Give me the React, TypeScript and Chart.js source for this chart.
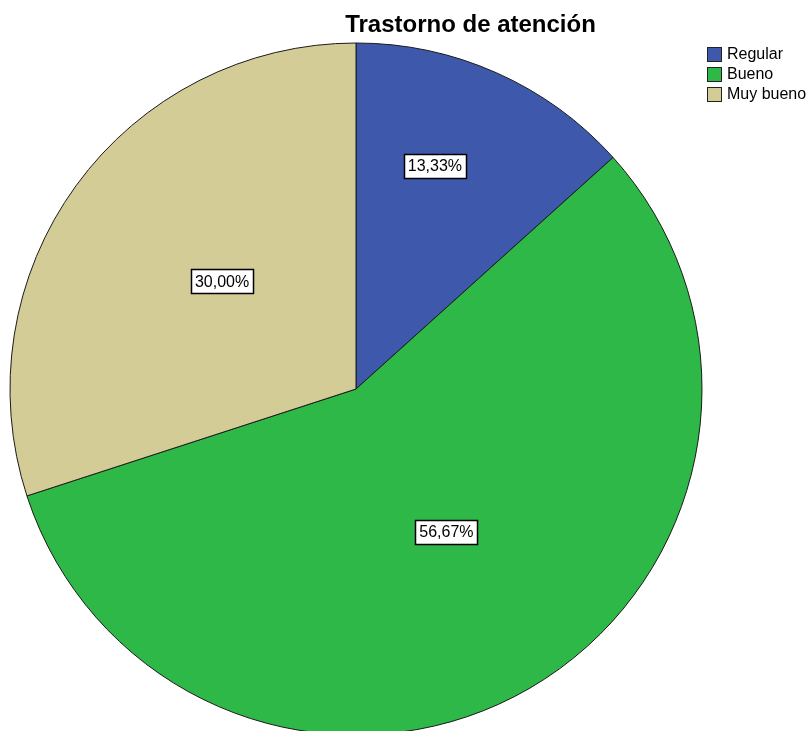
import React, { useEffect, useRef } from "react";
import { Chart, registerables } from "chart.js";

Chart.register(...registerables);

const chartTitle = "Trastorno de atención";
const categories = ["Regular", "Bueno", "Muy bueno"];
const percentages = [13.33, 56.67, 30.0];
const sliceColors = ["#3E58AC", "#2EB848", "#D4CC97"];
const labelRadiusFractions = [0.684, 0.489, 0.497];
const labelAngleShift = [-0.079, -0.04, 0.05];

const FONT = "'Liberation Sans', Arial, sans-serif";

const decorPlugin = {
  id: "decor",
  afterDatasetsDraw(chart: any) {
    const ctx = chart.ctx as CanvasRenderingContext2D;
    const meta = chart.getDatasetMeta(0);
    ctx.save();
    // slice labels
    ctx.font = `16px ${FONT}`;
    ctx.textAlign = "center";
    ctx.textBaseline = "middle";
    meta.data.forEach((arc: any, i: number) => {
      const p = arc.getProps(["x", "y", "startAngle", "endAngle", "outerRadius"], true);
      const mid = (p.startAngle + p.endAngle) / 2 + labelAngleShift[i];
      const r = p.outerRadius * labelRadiusFractions[i];
      const cx = p.x + Math.cos(mid) * r;
      const cy = p.y + Math.sin(mid) * r;
      const txt = percentages[i].toFixed(2).replace(".", ",") + "%";
      const w = Math.round(ctx.measureText(txt).width + 8);
      const h = 24;
      const bx = Math.round(cx - w / 2) + 0.5;
      const by = Math.round(cy - h / 2) + 0.5;
      ctx.fillStyle = "#ffffff";
      ctx.fillRect(bx, by, w, h);
      ctx.strokeStyle = "#000000";
      ctx.lineWidth = 1.5;
      ctx.strokeRect(bx, by, w, h);
      ctx.fillStyle = "#000000";
      ctx.fillText(txt, cx, cy + 1);
    });
    // title
    ctx.font = `bold 24px ${FONT}`;
    ctx.textAlign = "center";
    ctx.textBaseline = "alphabetic";
    ctx.fillStyle = "#000000";
    ctx.fillText(chartTitle, 470.5, 32);
    // legend
    ctx.font = `16px ${FONT}`;
    ctx.textAlign = "left";
    ctx.textBaseline = "middle";
    categories.forEach((c, i) => {
      const y = 47 + i * 20;
      ctx.fillStyle = sliceColors[i];
      ctx.fillRect(707.5, y + 0.5, 14, 14);
      ctx.strokeStyle = "#222222";
      ctx.lineWidth = 1;
      ctx.strokeRect(707.5, y + 0.5, 14, 14);
      ctx.fillStyle = "#000000";
      ctx.fillText(c, 727, y + 8);
    });
    ctx.restore();
  },
};

export default function App() {
  const ref = useRef<HTMLCanvasElement>(null);
  useEffect(() => {
    if (!ref.current) return;
    const chart = new Chart(ref.current, {
      type: "pie",
      data: {
        labels: categories,
        datasets: [
          {
            data: percentages,
            backgroundColor: sliceColors,
            borderColor: "#1a1a1a",
            borderWidth: 1,
            radius: 346,
          } as any,
        ],
      },
      options: {
        animation: false,
        responsive: false,
        maintainAspectRatio: false,
        layout: { padding: { left: 10, right: 107, top: 43, bottom: 5 } },
        plugins: {
          legend: { display: false },
          title: { display: false },
          tooltip: { enabled: false },
        },
      },
      plugins: [decorPlugin],
    });
    return () => chart.destroy();
  }, []);
  return (
    <div style={{ position: "fixed", left: 0, top: 0, width: 809, height: 740, background: "#ffffff" }}>
      <canvas ref={ref} width={809} height={740} style={{ width: 809, height: 740, display: "block" }} />
    </div>
  );
}
